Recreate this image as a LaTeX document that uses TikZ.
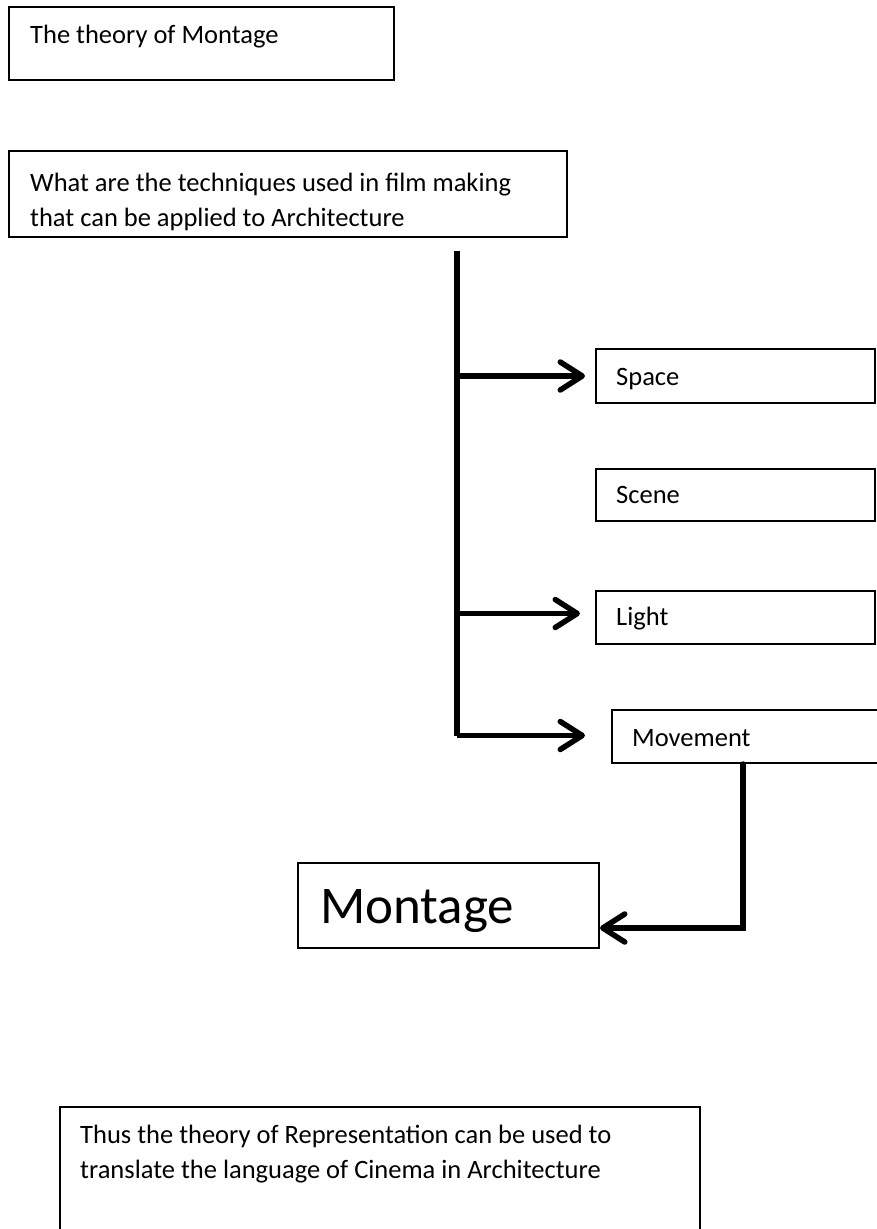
\documentclass[tikz,border=0pt]{standalone}
\usepackage{fontspec}
\setmainfont{Carlito}
\usetikzlibrary{arrows.meta}

\tikzset{
  box/.style={draw, line width=2pt, anchor=north west, inner sep=0pt},
  txt/.style={anchor=base west, inner sep=0pt, align=left, font=\fontsize{26.5}{35}\selectfont},
  link/.style={line width=5.5pt, -{Straight Barb[length=22pt,width=28pt,round]}}
}

\begin{document}
\begin{tikzpicture}[x=1pt,y=-1pt]
    \useasboundingbox (0,0) rectangle (877,1229);
    \clip (0,0) rectangle (877,1229);
    \fill[white] (0,0) rectangle (877,1229);
    % boxes
    \node[box, minimum width=385pt, minimum height=73pt] (theory) at (8,6) {};
    \node[box, minimum width=558pt, minimum height=86pt] (question) at (8,150) {};
    \node[box, minimum width=279pt, minimum height=54pt] (space) at (595,348) {};
    \node[box, minimum width=279pt, minimum height=52pt] (scene) at (595,468) {};
    \node[box, minimum width=279pt, minimum height=53pt] (light) at (595,590) {};
    \node[box, minimum width=290pt, minimum height=53pt] (movement) at (611,709) {};
    \node[box, minimum width=301pt, minimum height=85pt] (montage) at (297,862) {};
    \node[box, minimum width=640pt, minimum height=200pt] (thus) at (59,1106) {};
    % texts (base = last line)
    \node[txt] (theory text) at (30,43) {The theory of Montage};
    \node[txt] (question text) at (30,226) {What are the techniques used in film making\\that can be applied to Architecture};
    \node[txt] (space text) at (616,385) {Space};
    \node[txt] (scene text) at (616,503) {Scene};
    \node[txt] (light text) at (616,625) {Light};
    \node[txt] (movement text) at (632,746) {Movement};
    \node[txt, font=\fontsize{53}{60}\selectfont] (montage text) at (320,923) {Montage};
    \node[txt] (thus text) at (80,1178) {Thus the theory of Representation can be used to\\translate the language of Cinema in Architecture};
    % spine and arrows
    \coordinate (top) at (457,251);
    \coordinate (bottom) at (457,735.5);
    \coordinate (bend) at (743,928);
    \draw[line width=5.5pt] (top) -- (bottom);
    \draw[link] (top |- space.west) -- ([xshift=-10pt]space.west);
    \draw[link] ([yshift=4pt]top |- light.west) -- ([xshift=-15pt,yshift=4pt]light.west);
    \draw[link] (bottom) -- ([xshift=-26pt]movement.west |- bottom);
    \draw[link, line cap=round] (bend |- movement.south) -- (bend) -- (montage.east |- bend);
\end{tikzpicture}
\end{document}
